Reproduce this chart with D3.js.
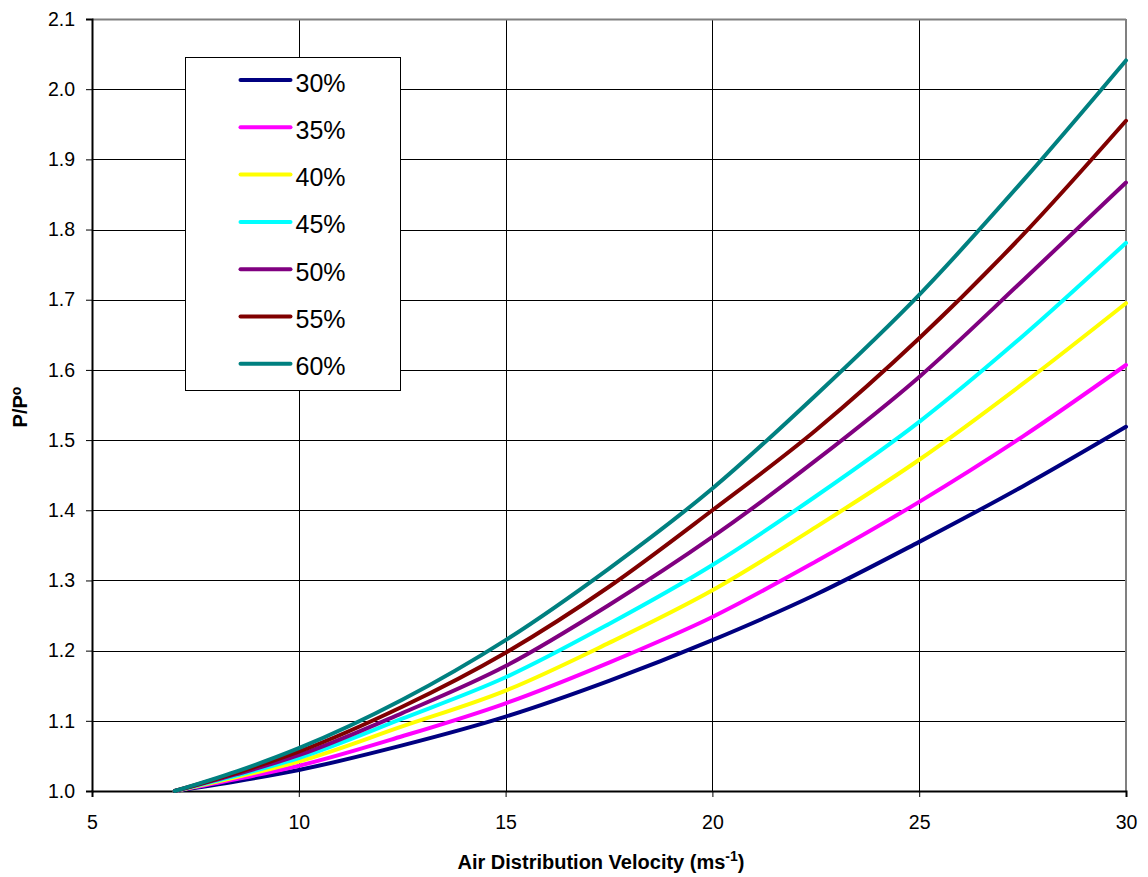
<!DOCTYPE html>
<html>
<head>
<meta charset="utf-8">
<script src="https://cdn.jsdelivr.net/npm/d3@7"></script>
<style>
  body { margin: 0; background: #fff; }
  text { font-family: "Liberation Sans", Arial, sans-serif; fill: #000; }
</style>
</head>
<body>
<div id="chart"></div>
<script>
// velocities (ms-1) at which the curves were read
var velocity = [7, 8.5, 10, 12.5, 15, 17.5, 20, 22.5, 25, 27.5, 30];

// P/Po for each percentage
var p30 = [1.0, 1.014, 1.030, 1.065, 1.106, 1.157, 1.215, 1.280, 1.355, 1.434, 1.519];
var p35 = [1.0, 1.017, 1.036, 1.078, 1.125, 1.183, 1.248, 1.327, 1.412, 1.505, 1.607];
var p40 = [1.0, 1.020, 1.042, 1.092, 1.143, 1.211, 1.286, 1.376, 1.472, 1.580, 1.695];
var p45 = [1.0, 1.022, 1.047, 1.103, 1.162, 1.238, 1.322, 1.420, 1.526, 1.648, 1.781];
var p50 = [1.0, 1.024, 1.051, 1.111, 1.178, 1.265, 1.362, 1.471, 1.590, 1.727, 1.867];
var p55 = [1.0, 1.026, 1.056, 1.120, 1.197, 1.291, 1.400, 1.514, 1.645, 1.792, 1.955];
var p60 = [1.0, 1.028, 1.061, 1.130, 1.215, 1.317, 1.431, 1.564, 1.707, 1.869, 2.041];

var seriesNames = ["30%", "35%", "40%", "45%", "50%", "55%", "60%"];
var seriesColors = ["#000080", "#ff00ff", "#ffff00", "#00ffff", "#800080", "#800000", "#008080"];
var seriesValues = [p30, p35, p40, p45, p50, p55, p60];

var xTicks = [5, 10, 15, 20, 25, 30];
var yTicks = [1.0, 1.1, 1.2, 1.3, 1.4, 1.5, 1.6, 1.7, 1.8, 1.9, 2.0, 2.1];

var width = 1148, height = 877;
var margin = { top: 19, right: 22, bottom: 86, left: 92 };
var plotW = width - margin.left - margin.right;
var plotH = height - margin.top - margin.bottom;

var svg = d3.select("#chart").append("svg")
  .attr("width", width)
  .attr("height", height);

var g = svg.append("g")
  .attr("transform", "translate(" + margin.left + "," + margin.top + ")");

var xScale = d3.scaleLinear().domain([5, 30]).range([0, plotW]);
var yScale = d3.scaleLinear().domain([1.0, 2.1]).range([plotH, 0]);

// gridlines
g.append("g").selectAll("line")
  .data(yTicks.slice(1, -1))
  .enter().append("line")
  .attr("x1", 0).attr("x2", plotW)
  .attr("y1", function (d) { return Math.round(yScale(d)) + 0.5; })
  .attr("y2", function (d) { return Math.round(yScale(d)) + 0.5; })
  .attr("stroke", "#000").attr("stroke-width", 1);

g.append("g").selectAll("line")
  .data(xTicks.slice(1, -1))
  .enter().append("line")
  .attr("y1", 0).attr("y2", plotH)
  .attr("x1", function (d) { return Math.round(xScale(d)) + 0.5; })
  .attr("x2", function (d) { return Math.round(xScale(d)) + 0.5; })
  .attr("stroke", "#000").attr("stroke-width", 1);

// top and right border (grey)
g.append("line").attr("x1", 0).attr("x2", plotW).attr("y1", 0.5).attr("y2", 0.5)
  .attr("stroke", "#808080").attr("stroke-width", 2);
g.append("line").attr("x1", plotW).attr("x2", plotW).attr("y1", 0).attr("y2", plotH)
  .attr("stroke", "#808080").attr("stroke-width", 2);

// axes
var xAxis = g.append("g")
  .attr("transform", "translate(0," + plotH + ")")
  .call(d3.axisBottom(xScale).tickValues(xTicks).tickSize(6).tickPadding(18)
    .tickFormat(d3.format("d")));
var yAxis = g.append("g")
  .call(d3.axisLeft(yScale).tickValues(yTicks).tickSize(6).tickPadding(11)
    .tickFormat(d3.format(".1f")));

[xAxis, yAxis].forEach(function (a) {
  a.select(".domain").attr("stroke", "#000").attr("stroke-width", 2);
  a.selectAll(".tick line").attr("stroke", "#000").attr("stroke-width", 1);
  a.selectAll("text").style("font-size", "19.5px")
    .style("font-family", "'Liberation Sans', Arial, sans-serif");
});

// curves
var line = d3.line()
  .x(function (d, i) { return xScale(velocity[i]); })
  .y(function (d) { return yScale(d); })
  .curve(d3.curveMonotoneX);

g.append("g").selectAll("path")
  .data(seriesValues)
  .enter().append("path")
  .attr("d", line)
  .attr("fill", "none")
  .attr("stroke", function (d, i) { return seriesColors[i]; })
  .attr("stroke-width", 4)
  .attr("stroke-linecap", "round")
  .attr("stroke-linejoin", "round");

// legend
var legend = svg.append("g").attr("transform", "translate(185.5,57.5)");
legend.append("rect")
  .attr("width", 215).attr("height", 333)
  .attr("fill", "#fff").attr("stroke", "#000").attr("stroke-width", 1);

var items = legend.selectAll(".item")
  .data(seriesNames)
  .enter().append("g")
  .attr("class", "item")
  .attr("transform", function (d, i) { return "translate(0," + (22.5 + i * 47.3) + ")"; });

items.append("line")
  .attr("x1", 55).attr("x2", 105)
  .attr("stroke", function (d, i) { return seriesColors[i]; })
  .attr("stroke-width", 4)
  .attr("stroke-linecap", "round");

items.append("text")
  .attr("x", 110).attr("y", 11.5)
  .style("font-size", "25px")
  .text(function (d) { return d; });

// axis titles
var yTitle = svg.append("text")
  .attr("transform", "translate(27," + (margin.top + plotH / 2 + 2) + ") rotate(-90)")
  .attr("text-anchor", "middle")
  .style("font-size", "20px")
  .style("font-weight", "bold");
yTitle.append("tspan").text("P/P");
yTitle.append("tspan").attr("dy", -6).style("font-size", "14px").text("o");

var xTitle = svg.append("text")
  .attr("x", margin.left + plotW / 2 - 8)
  .attr("y", 869)
  .attr("text-anchor", "middle")
  .style("font-size", "20px")
  .style("font-weight", "bold");
xTitle.append("tspan").text("Air Distribution Velocity (ms");
xTitle.append("tspan").attr("dy", -8).style("font-size", "14px").text("-1");
xTitle.append("tspan").attr("dy", 8).text(")");
</script>
</body>
</html>
